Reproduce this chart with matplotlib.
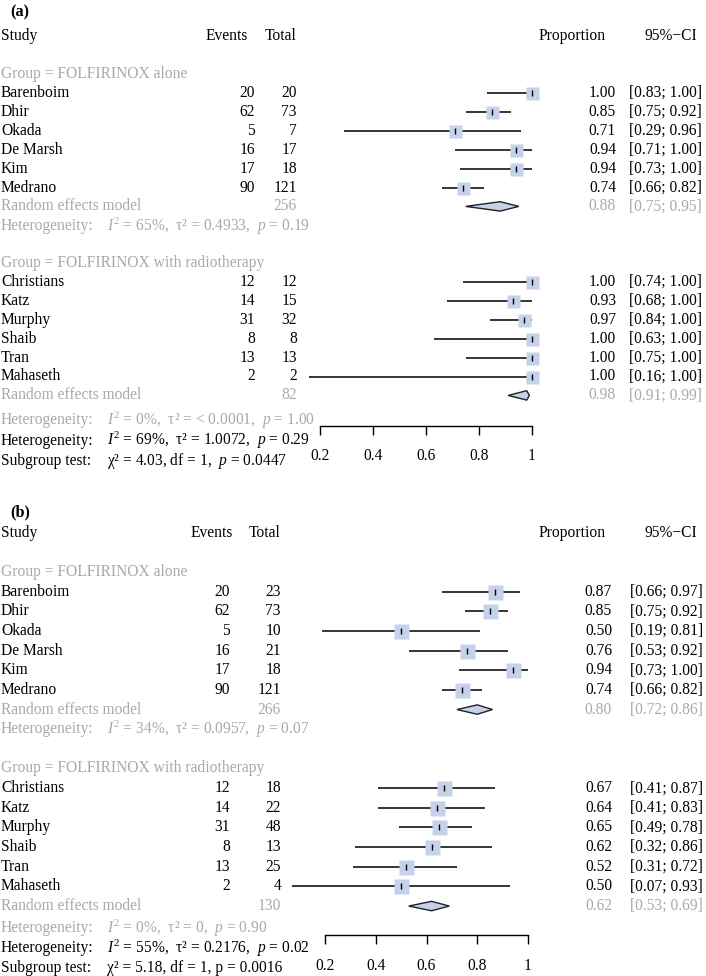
import matplotlib.pyplot as plt
from matplotlib.patches import Polygon
from matplotlib.transforms import blended_transform_factory

plt.rcParams['font.family'] = ['Liberation Serif', 'DejaVu Serif']
plt.rcParams['mathtext.fontset'] = 'custom'
plt.rcParams['mathtext.rm'] = 'Liberation Serif'
plt.rcParams['mathtext.it'] = 'Liberation Serif:italic'

W, H = 706, 976
GRAY = '#a9a9a9'
FILL = '#c6d2e9'
FS = 11.2

# ---- data ----
groups = ['FOLFIRINOX alone', 'FOLFIRINOX with radiotherapy']
studies_alone = ['Barenboim', 'Dhir', 'Okada', 'De Marsh', 'Kim', 'Medrano']
studies_rt = ['Christians', 'Katz', 'Murphy', 'Shaib', 'Tran', 'Mahaseth']

# panel (a)
a_events = [[20, 62, 5, 16, 17, 90], [12, 14, 31, 8, 13, 2]]
a_total = [[20, 73, 7, 17, 18, 121], [12, 15, 32, 8, 13, 2]]
a_prop = [[1.00, 0.85, 0.71, 0.94, 0.94, 0.74], [1.00, 0.93, 0.97, 1.00, 1.00, 1.00]]
a_lo = [[0.83, 0.75, 0.29, 0.71, 0.73, 0.66], [0.74, 0.68, 0.84, 0.63, 0.75, 0.16]]
a_hi = [[1.00, 0.92, 0.96, 1.00, 1.00, 0.82], [1.00, 1.00, 1.00, 1.00, 1.00, 1.00]]
a_rem_n = [256, 82]
a_rem = [(0.88, 0.75, 0.95), (0.98, 0.91, 0.99)]
a_het = [(r'$I^2$ = 65%,  τ² = 0.4933,  $p$ = 0.19'),
         (r'$I^2$ = 0%,  τ² = < 0.0001,  $p$ = 1.00')]
a_het_all = r'$I^2$ = 69%,  τ² = 1.0072,  $p$ = 0.29'
a_subgroup = r'χ² = 4.03, df = 1,  $p$ = 0.0447'

# panel (b)
b_events = [[20, 62, 5, 16, 17, 90], [12, 14, 31, 8, 13, 2]]
b_total = [[23, 73, 10, 21, 18, 121], [18, 22, 48, 13, 25, 4]]
b_prop = [[0.87, 0.85, 0.50, 0.76, 0.94, 0.74], [0.67, 0.64, 0.65, 0.62, 0.52, 0.50]]
b_lo = [[0.66, 0.75, 0.19, 0.53, 0.73, 0.66], [0.41, 0.41, 0.49, 0.32, 0.31, 0.07]]
b_hi = [[0.97, 0.92, 0.81, 0.92, 1.00, 0.82], [0.87, 0.83, 0.78, 0.86, 0.72, 0.93]]
b_rem_n = [266, 130]
b_rem = [(0.80, 0.72, 0.86), (0.62, 0.53, 0.69)]
b_het = [(r'$I^2$ = 34%,  τ² = 0.0957,  $p$ = 0.07'),
         (r'$I^2$ = 0%,  τ² = 0,  $p$ = 0.90')]
b_het_all = r'$I^2$ = 55%,  τ² = 0.2176,  $p$ = 0.02'
b_subgroup = r'χ² = 5.18, df = 1, p = 0.0016'

ticks = [0.2, 0.4, 0.6, 0.8, 1.0]
tick_labels = ['0.2', '0.4', '0.6', '0.8', '1']

fig = plt.figure(figsize=(W / 100, H / 100), dpi=100)


def draw_panel(tag, tag_y, row0, pitch, axis_y, x02, x1, cols, het_rows, sq_px,
               events, total, prop, lo, hi, rem_n, rem, het, het_all, subgroup):
    axis_row = (axis_y - row0) / pitch
    ax = fig.add_axes([x02 / W, 1 - axis_y / H, (x1 - x02) / W, (axis_y - row0) / H])
    ax.set_xlim(0.2, 1.0)
    ax.set_ylim(axis_row, 0)
    for s in ['left', 'right', 'top']:
        ax.spines[s].set_visible(False)
    ax.spines['bottom'].set_linewidth(1.0)
    ax.set_yticks([])
    ax.set_xticks(ticks)
    ax.set_xticklabels(tick_labels, fontsize=FS)
    ax.tick_params(axis='x', direction='out', length=6.2, width=1.0, pad=10)
    ax.patch.set_visible(False)

    tr = blended_transform_factory(fig.transFigure, ax.transData)

    def txt(x, row, s, ha='left', color='black', **kw):
        ax.text(x / W, row, s, ha=ha, va='center', transform=tr,
                fontsize=FS, color=color, **kw)

    fig.text(10 / W, 1 - tag_y / H, tag, fontsize=FS + 0.5, fontweight='bold',
             va='center', ha='left')

    # header
    txt(1, 0, 'Study')
    txt(cols['ev_h'], 0, 'Events', ha='right')
    txt(cols['tot_h'], 0, 'Total', ha='right')
    txt(606, 0, 'Proportion', ha='right')
    txt(697, 0, '95%−CI', ha='right')

    sq_pt = sq_px * 72 / 100
    for g, names in enumerate([studies_alone, studies_rt]):
        base = 10 * g
        txt(1, base + 2, 'Group = ' + groups[g], color=GRAY)
        for i, name in enumerate(names):
            r = base + 3 + i
            txt(1, r, name)
            txt(cols['ev'], r, str(events[g][i]), ha='right')
            txt(cols['tot'], r, str(total[g][i]), ha='right')
            txt(cols['prop'], r, f'{prop[g][i]:.2f}', ha='right')
            txt(cols['ci'], r, f'[{lo[g][i]:.2f}; {hi[g][i]:.2f}]', ha='right')
            ax.plot([lo[g][i], hi[g][i]], [r, r], color='black', lw=1.1,
                    clip_on=False, solid_capstyle='butt')
            ax.plot(prop[g][i], r, marker='s', ms=sq_pt, mfc=FILL, mec='none',
                    clip_on=False)
            ax.plot(prop[g][i], r, marker='|', ms=5, mew=1.0, color='black',
                    clip_on=False)
        r = base + 9
        est, l, h = rem[g]
        txt(1, r, 'Random effects model', color=GRAY)
        txt(cols['tot'], r, str(rem_n[g]), ha='right', color=GRAY)
        txt(cols['prop'], r, f'{est:.2f}', ha='right', color=GRAY)
        txt(cols['ci'], r, f'[{l:.2f}; {h:.2f}]', ha='right', color=GRAY)
        dh = 4.7 / pitch
        ax.add_patch(Polygon([(l, r), (est, r - dh), (h, r), (est, r + dh)],
                             closed=True, fc=FILL, ec='#222222', lw=1.0,
                             clip_on=False))
        hr = het_rows[g]
        txt(1, hr, 'Heterogeneity:', color=GRAY)
        txt(107, hr, het[g], color=GRAY)

    txt(1, het_rows[2], 'Heterogeneity:')
    txt(107, het_rows[2], het_all)
    txt(1, het_rows[3], 'Subgroup test:')
    txt(107, het_rows[3], subgroup)


cols_a = dict(ev=255, tot=297, ev_h=248, tot_h=296, prop=616, ci=702)
cols_b = dict(ev=230, tot=281, ev_h=233, tot_h=280, prop=612, ci=703)

draw_panel('(a)', 12, 36.3, 18.9, 426, 320, 532, cols_a,
           [10.05, 20.3, 21.4, 22.45], 13,
           a_events, a_total, a_prop, a_lo, a_hi, a_rem_n, a_rem,
           a_het, a_het_all, a_subgroup)
draw_panel('(b)', 512, 532.7, 19.65, 935, 325, 528, cols_b,
           [10.0, 20.13, 21.15, 22.14], 15,
           b_events, b_total, b_prop, b_lo, b_hi, b_rem_n, b_rem,
           b_het, b_het_all, b_subgroup)

fig.savefig('out.png', dpi=100, facecolor='white')
